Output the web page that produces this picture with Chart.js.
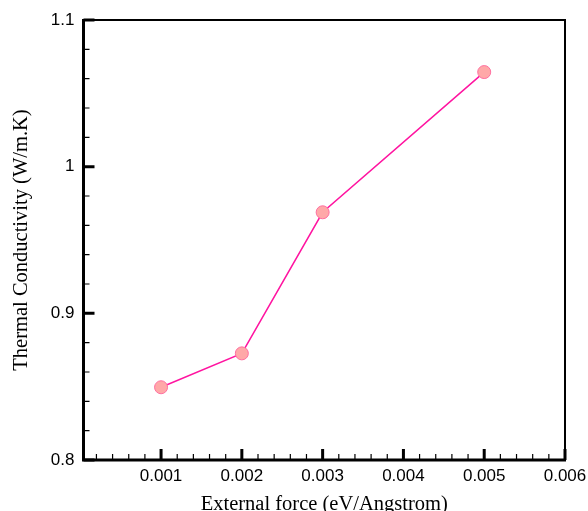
<!DOCTYPE html>
<html>
<head>
<meta charset="utf-8">
<script src="https://cdn.jsdelivr.net/npm/chart.js@4"></script>
<style>
  html, body { margin: 0; padding: 0; background: #fff; }
  #wrap { width: 588px; height: 511px; }
</style>
</head>
<body>
<div id="wrap"><canvas id="chart" width="588" height="511"></canvas></div>
<script>
// data
const forces = [0.001, 0.002, 0.003, 0.005];
const conductivity = [0.8496, 0.8727, 0.9689, 1.0645];
const xTicks = [0.001, 0.002, 0.003, 0.004, 0.005, 0.006];
const yTicks = [0.8, 0.9, 1.0, 1.1];

// frame + inward ticks, drawn like the original plot
const frameTicks = {
    id: 'frameTicks',
    afterDraw(chart) {
        const ctx = chart.ctx;
        const a = chart.chartArea;
        const xs = chart.scales.x, ys = chart.scales.y;
        ctx.save();
        ctx.strokeStyle = '#000';
        ctx.lineCap = 'butt';

        // thin top/right
        ctx.lineWidth = 2;
        ctx.beginPath();
        ctx.moveTo(a.left, a.top); ctx.lineTo(a.right, a.top); ctx.lineTo(a.right, a.bottom);
        ctx.stroke();

        // minor ticks
        ctx.lineWidth = 1.2;
        ctx.beginPath();
        for (let i = 1; i < 30; i++) {
            const px = xs.getPixelForValue(i * 0.0002);
            if (i % 5 === 0 || px <= a.left + 2) continue;
            ctx.moveTo(px, a.bottom); ctx.lineTo(px, a.bottom - 6);
        }
        for (let i = 1; i < 15; i++) {
            if (i % 5 === 0) continue;
            const py = ys.getPixelForValue(0.8 + i * 0.02);
            ctx.moveTo(a.left, py); ctx.lineTo(a.left + 6, py);
        }
        ctx.stroke();

        // major ticks
        ctx.lineWidth = 3;
        ctx.beginPath();
        xTicks.forEach(v => {
            const px = xs.getPixelForValue(v);
            ctx.moveTo(px, a.bottom); ctx.lineTo(px, a.bottom - 11);
        });
        yTicks.forEach(v => {
            const py = ys.getPixelForValue(v);
            ctx.moveTo(a.left, py); ctx.lineTo(a.left + 11, py);
        });
        ctx.stroke();

        // thick left/bottom
        ctx.lineWidth = 3;
        ctx.beginPath();
        ctx.moveTo(a.left, a.top - 1); ctx.lineTo(a.left, a.bottom); ctx.lineTo(a.right + 1, a.bottom);
        ctx.stroke();
        ctx.restore();
    }
};

new Chart(document.getElementById('chart'), {
    type: 'line',
    data: {
        datasets: [{
            data: forces.map((f, i) => ({ x: f, y: conductivity[i] })),
            borderColor: '#ff14a0',
            borderWidth: 1.5,
            backgroundColor: '#ffa8a8',
            pointBackgroundColor: '#ffa8a8',
            pointBorderColor: '#ff6fa0',
            pointBorderWidth: 1,
            pointRadius: 6.5,
            tension: 0,
            clip: false
        }]
    },
    options: {
        responsive: false,
        animation: false,
        layout: { padding: { left: 0, right: 23, top: 20, bottom: 0 } },
        plugins: { legend: { display: false }, tooltip: { enabled: false } },
        scales: {
            x: {
                type: 'linear',
                min: 0.00004,
                max: 0.006,
                afterBuildTicks: s => { s.ticks = xTicks.map(v => ({ value: v })); },
                afterFit: s => { s.height = 51; s.paddingLeft = 0; s.paddingRight = 0; },
                grid: { display: false, drawTicks: false, tickLength: 0 },
                border: { display: false },
                ticks: {
                    color: '#000',
                    padding: 6,
                    font: { family: 'Liberation Sans', size: 17 },
                    callback: v => String(+v.toFixed(3))
                },
                title: {
                    display: true,
                    text: 'External force (eV/Angstrom)',
                    color: '#000',
                    font: { family: 'Liberation Serif', size: 20.5 },
                    padding: { top: 0, bottom: -6 }
                }
            },
            y: {
                min: 0.8,
                max: 1.1,
                afterBuildTicks: s => { s.ticks = yTicks.map(v => ({ value: v })); },
                afterFit: s => { s.width = 83.5; s.paddingTop = 0; s.paddingBottom = 0; },
                grid: { display: false, drawTicks: false, tickLength: 0 },
                border: { display: false },
                ticks: {
                    color: '#000',
                    padding: 9,
                    font: { family: 'Liberation Sans', size: 17 },
                    callback: v => String(+v.toFixed(2))
                },
                title: {
                    display: true,
                    text: 'Thermal Conductivity (W/m.K)',
                    color: '#000',
                    font: { family: 'Liberation Serif', size: 20.5 },
                    padding: { top: 9, bottom: 0 }
                }
            }
        }
    },
    plugins: [frameTicks]
});
</script>
</body>
</html>
